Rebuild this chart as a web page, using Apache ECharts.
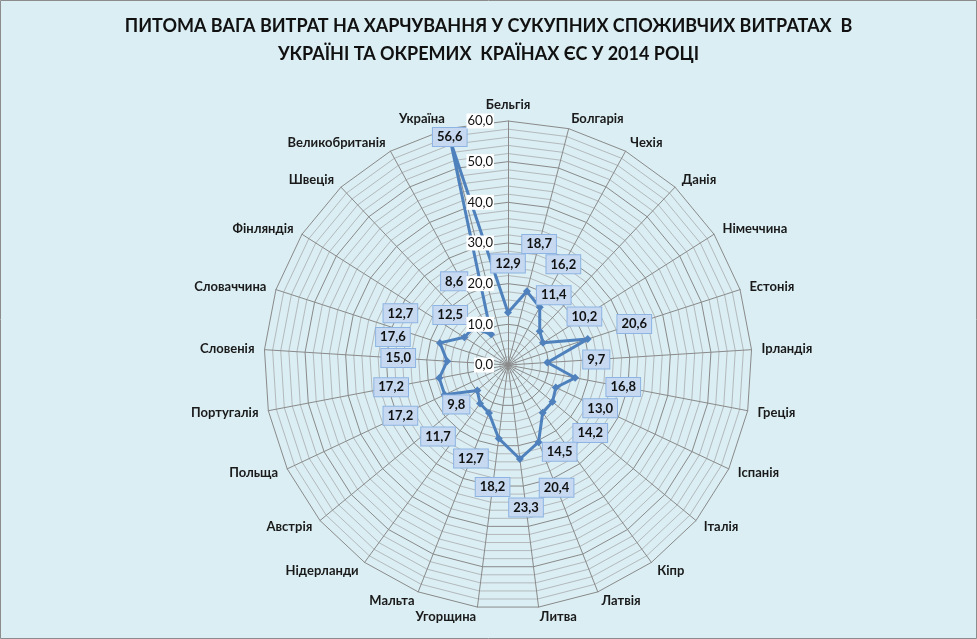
<!DOCTYPE html>
<html>
<head>
<meta charset="utf-8">
<script src="https://cdn.jsdelivr.net/npm/echarts@6/dist/echarts.min.js"></script>
<style>
    html, body { margin: 0; padding: 0; background: #DAEEF3; }
    #chart { width: 977px; height: 639px; }
</style>
</head>
<body>
<div id="chart"></div>
<script>
    // країни по годинниковій стрілці від верху
    var countries = ['Бельгія', 'Болгарія', 'Чехія', 'Данія', 'Німеччина', 'Естонія', 'Ірландія',
        'Греція', 'Іспанія', 'Італія', 'Кіпр', 'Латвія', 'Литва', 'Угорщина', 'Мальта',
        'Нідерланди', 'Австрія', 'Польща', 'Португалія', 'Словенія', 'Словаччина',
        'Фінляндія', 'Швеція', 'Великобританія', 'Україна'];
    // питома вага витрат на харчування, %
    var foodShare = [12.9, 18.7, 16.2, 11.4, 10.2, 20.6, 9.7, 16.8, 13.0, 14.2, 14.5, 20.4, 23.3,
        18.2, 12.7, 11.7, 9.8, 17.2, 17.2, 15.0, 17.6, 12.7, 12.5, 8.6, 56.6];
    var radiusTicks = [0, 10, 20, 30, 40, 50, 60];

    var titleText = 'ПИТОМА ВАГА ВИТРАТ НА ХАРЧУВАННЯ У СУКУПНИХ СПОЖИВЧИХ ВИТРАТАХ  В\nУКРАЇНІ ТА ОКРЕМИХ  КРАЇНАХ ЄС У 2014 РОЦІ';

    var FONT = 'Lato, "Open Sans", sans-serif';
    var CX = 508, CY = 365, R = 244;
    var LABEL_GAP = 49;

    // підписи, які в оригіналі зсунуті вручну (зсув від точки, px)
    var labelNudge = {
        'Данія': [14, -36],
        'Кіпр': [17, 39],
        'Нідерланди': [-42, 33],
        'Австрія': [-21, 14],
        'Словаччина': [-47, -6],
        'Фінляндія': [-64, -24],
        'Швеція': [-23, -13],
        'Великобританія': [-37, -53],
        'Україна': [-1, -5]
    };

    function fmt(v) {
        return Number(v).toFixed(1).replace('.', ',');
    }

    var n = countries.length;
    var step = 360 / n;

    // radar іде проти годинникової стрілки - розвертаємо порядок
    var radarIndicators = [];
    for (var k = 0; k < n; k++) {
        radarIndicators.push({ name: countries[(n - k) % n], min: 0, max: radiusTicks[radiusTicks.length - 1] });
    }

    var lineData = foodShare.map(function(v, i) {
        var a = i * step * Math.PI / 180;
        var off = labelNudge[countries[i]] || [LABEL_GAP * Math.sin(a), -LABEL_GAP * Math.cos(a)];
        return { value: [v, i * step], label: { offset: off } };
    });
    // замикаємо контур
    lineData.push({ value: [foodShare[0], 360], label: { show: false }, symbol: 'none' });

    var chart = echarts.init(document.getElementById('chart'));

    var option = {
        backgroundColor: '#DAEEF3',
        animation: false,
        title: {
            text: titleText,
            left: 'center',
            top: 7,
            textStyle: {
                fontFamily: FONT,
                fontWeight: 'bold',
                fontSize: 18,
                lineHeight: 28,
                color: '#111'
            }
        },
        graphic: [{
            type: 'rect',
            shape: { x: 0.5, y: 0.5, width: 976, height: 638 },
            style: { fill: 'none', stroke: '#8c8c8c', lineWidth: 1 },
            silent: true
        }],
        radar: {
            center: [CX, CY],
            radius: R,
            shape: 'polygon',
            splitNumber: 30,
            nameGap: 10,
            indicator: radarIndicators,
            axisName: {
                color: '#1a1a1a',
                fontFamily: FONT,
                fontWeight: 'bold',
                fontSize: 13
            },
            axisLine: { lineStyle: { color: '#8a8a8a', width: 1 } },
            splitLine: {
                lineStyle: {
                    color: ['#8a8a8a', '#b4b9bc', '#b4b9bc', '#b4b9bc', '#b4b9bc'],
                    width: 1
                }
            },
            splitArea: { show: false },
            axisLabel: { show: false }
        },
        polar: {
            center: [CX, CY],
            radius: R
        },
        angleAxis: {
            type: 'value',
            min: 0,
            max: 360,
            startAngle: 90,
            clockwise: true,
            show: false
        },
        radiusAxis: {
            type: 'value',
            min: radiusTicks[0],
            max: radiusTicks[radiusTicks.length - 1],
            interval: radiusTicks[1] - radiusTicks[0],
            z: 10,
            axisLine: { show: false },
            axisTick: { show: false },
            splitLine: { show: false },
            axisLabel: {
                margin: 14,
                formatter: function(v) { return fmt(v); },
                color: '#111',
                fontFamily: FONT,
                fontSize: 13,
                backgroundColor: '#ffffff',
                padding: [1, 1]
            }
        },
        series: [{
            type: 'line',
            coordinateSystem: 'polar',
            data: lineData,
            symbol: 'diamond',
            symbolSize: 8,
            lineStyle: { color: '#4F81BD', width: 3 },
            itemStyle: { color: '#4F81BD' },
            z: 3,
            label: {
                show: true,
                position: 'inside',
                formatter: function(p) { return fmt(p.value[0]); },
                color: '#111',
                fontFamily: FONT,
                fontWeight: 'bold',
                fontSize: 13,
                backgroundColor: '#C6D9F1',
                borderColor: '#8EB4E3',
                borderWidth: 1,
                padding: [3, 4, 2, 4]
            }
        }]
    };

    chart.setOption(option);

    window.addEventListener('resize', function() {
        chart.resize();
    });
</script>
</body>
</html>
